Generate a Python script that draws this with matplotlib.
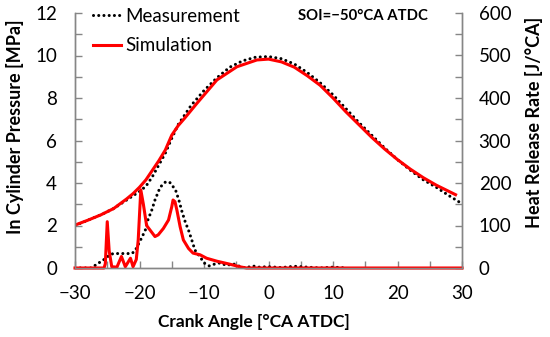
import numpy as np
import matplotlib
matplotlib.use('Agg')
import matplotlib.pyplot as plt
from matplotlib.ticker import MultipleLocator

plt.rcParams['font.family'] = ['Lato', 'DejaVu Sans']

# in cylinder pressure [MPa]
ca_p_meas = [-30, -28, -26, -24, -22, -21, -20, -19, -18, -17, -16, -15, -14, -12, -10, -8, -6, -4, -2, 0,
             2, 4, 6, 8, 10, 12, 14, 16, 18, 20, 22, 24, 26, 28, 29.5]
p_meas = [2.0, 2.25, 2.5, 2.8, 3.2, 3.4, 3.6, 3.85, 4.3, 4.85, 5.4, 6.1, 6.75, 7.65, 8.35, 8.95, 9.45, 9.75, 9.92, 9.95,
          9.85, 9.6, 9.2, 8.72, 8.15, 7.5, 6.85, 6.25, 5.65, 5.1, 4.6, 4.15, 3.8, 3.4, 3.12]

ca_p_sim = [-30, -28, -26, -24, -22, -21, -20, -19, -18, -17, -16, -15, -14, -13, -11.1, -8, -4.9, -1.8, 0,
            2, 4, 6, 8, 10, 12, 14, 16, 18, 20, 22, 24, 26, 28, 29]
p_sim = [2.02, 2.25, 2.5, 2.8, 3.25, 3.5, 3.8, 4.15, 4.6, 5.05, 5.55, 6.25, 6.7, 7.05, 7.75, 8.85, 9.47, 9.79, 9.83,
         9.7, 9.45, 9.05, 8.6, 8.0, 7.35, 6.75, 6.15, 5.6, 5.1, 4.65, 4.25, 3.9, 3.6, 3.45]

# heat release rate [J/CA]
ca_h_meas = [-30, -27.5, -27, -26.3, -25.5, -25, -24.5, -24, -23, -22, -21.2, -20.7, -20.2, -19.7, -19.1, -18.7,
             -18.1, -17.6, -16.8, -16.0, -15.5, -15.2, -14.4, -13.9, -13.4, -12.9, -12.4, -11.9, -11.4, -10.6,
             -10.0, -9.2, -8.4, -7.5, -6.5, -5.5, -4.5, -3.5, -2.5, -1.5, 0, 2, 4, 6, 8, 10, 12]
h_meas = [0, 0, 5, 12, 20, 26, 32, 34, 34, 34, 34, 40, 55, 70, 89, 113,
          136, 160, 190, 202, 203, 200, 183, 160, 132, 108, 89, 66, 42, 26,
          12, 5, 9, 12, 6, 10, 4, 0, 5, 2, 3, 1, 4, 2, 0, 2, 0]

ca_h_sim = [-30, -25.5, -25.3, -25.0, -24.7, -24.3, -23.5, -22.8, -22.2, -21.4, -21.0, -20.5, -20.2, -19.8,
            -19.4, -18.9, -18.6, -17.6, -17.1, -16.3, -15.5, -15.0, -14.8, -14.5, -14.2, -13.7, -13.2, -12.4,
            -11.7, -10.6, -9.6, -8.0, -6.0, -4.5, -3.4, 30]
h_sim = [0, 0, 10, 109, 40, 3, 2, 27, 3, 23, 3, 20, 66, 184,
         150, 100, 94, 74, 78, 93, 113, 144, 160, 156, 136, 97, 66, 46,
         35, 31, 23, 16, 9, 3, 0, 0]

gray = '#868686'
dots = (0, (0.01, 1.7))

fig = plt.figure(figsize=(5.5, 3.37), dpi=100)
ax1 = fig.add_axes([75/550, 1-268/337, 387/550, 255/337])
ax2 = ax1.twinx()

ax1.plot(ca_p_meas, p_meas, color='black', lw=2.2, linestyle=dots, dash_capstyle='round', label='Measurement')
ax1.plot(ca_p_sim, p_sim, color='#ff0000', lw=2.2, label='Simulation')
ax2.plot(ca_h_meas, h_meas, color='black', lw=2.2, linestyle=dots, dash_capstyle='round')
ax2.plot(ca_h_sim, h_sim, color='#ff0000', lw=2.2, clip_on=False)

ax1.set_xlim(-30, 30)
ax1.set_ylim(0, 12)
ax2.set_ylim(0, 600)
ax1.xaxis.set_major_locator(MultipleLocator(10))
ax1.xaxis.set_minor_locator(MultipleLocator(5))
ax1.yaxis.set_major_locator(MultipleLocator(2))
ax1.yaxis.set_minor_locator(MultipleLocator(1))
ax2.yaxis.set_major_locator(MultipleLocator(100))
ax2.yaxis.set_minor_locator(MultipleLocator(50))

for ax in (ax1, ax2):
    ax.spines['top'].set_visible(False)
    for s in ('left', 'right', 'bottom'):
        ax.spines[s].set_color(gray)
        ax.spines[s].set_linewidth(1)
    ax.tick_params(which='both', direction='in', length=5, width=1, color=gray, labelsize=13.5)
ax1.tick_params(axis='y', pad=13)
ax1.tick_params(axis='x', pad=12)
ax2.tick_params(axis='y', pad=12)

fig.text(15/550, 1-127/337, 'In Cylinder Pressure [MPa]', rotation=90, ha='center', va='center',
         fontsize=13, fontweight='bold')
fig.text(534/550, 1-122/337, 'Heat Release Rate [J/°CA]', rotation=90, ha='center', va='center',
         fontsize=13, fontweight='bold')
fig.text(254/550, 1-322/337, 'Crank Angle [°CA ATDC]', ha='center', va='center',
         fontsize=12.5, fontweight='bold')
fig.text(363/550, 1-16/337, 'SOI=\u221250°CA ATDC', ha='center', va='center', fontsize=10.7, fontweight='bold')

ax1.legend(loc='upper left', bbox_to_anchor=(93/550, 1-8/337), bbox_transform=fig.transFigure,
           frameon=False, fontsize=13.5, handlelength=1.5, handletextpad=0.2, borderpad=0,
           borderaxespad=0, labelspacing=0.65)

fig.savefig('out.png', dpi=100)
